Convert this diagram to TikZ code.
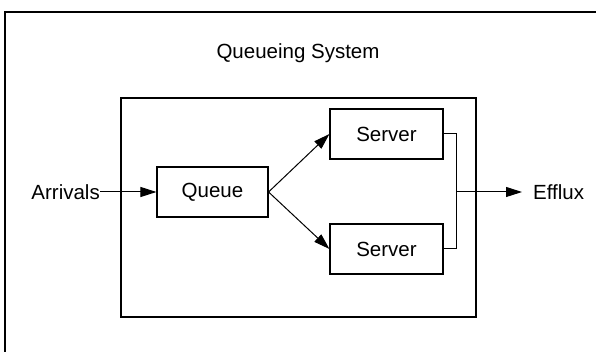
\documentclass[tikz,border=0pt]{standalone}
\usepackage{fontspec}
\setmainfont{Liberation Sans}
\usetikzlibrary{arrows.meta}
\begin{document}
\begin{tikzpicture}[x=1pt,y=1pt,
  lbl/.style={font=\fontsize{20.5}{24}\selectfont, inner sep=0pt},
  unit/.style={draw, line width=1.1pt, minimum height=50pt, lbl},
  flow/.style={line width=1pt, -{Triangle[length=16pt,width=10pt]}},
  wire/.style={line width=1pt}]
  \useasboundingbox (0,0) rectangle (596,352);
  % outer frame (top and left edges)
  \draw[line width=1.2pt] (596,340) -- (5,340) -- (5,0);
  % title
  \node[lbl] (title) at (298,299) {Queueing System};
  % system boundary
  \draw[line width=1.1pt] (121,254) rectangle (476,35);
  % nodes
  \node[lbl, anchor=east] (arr) at (100,160) {Arrivals};
  \node[unit, minimum width=111pt] (queue) at (212.5,160) {Queue};
  \node[unit, minimum width=113pt] (s1) at (386.5,218) {Server};
  \node[unit, minimum width=113pt] (s2) at (386.5,103) {Server};
  \coordinate (bus) at (456,160);
  \node[lbl, anchor=west] (eff) at (533,160) {Efflux};
  \coordinate (effend) at (522,160);
  % connectors
  \draw[flow] (arr.east) -- (queue.west);
  \draw[flow] (queue.east) -- (s1.west);
  \draw[flow] (queue.east) -- (s2.west);
  \draw[wire] (s1.east) -| (bus);
  \draw[wire] (s2.east) -| (bus);
  \draw[flow] (bus) -- (effend);
\end{tikzpicture}
\end{document}
